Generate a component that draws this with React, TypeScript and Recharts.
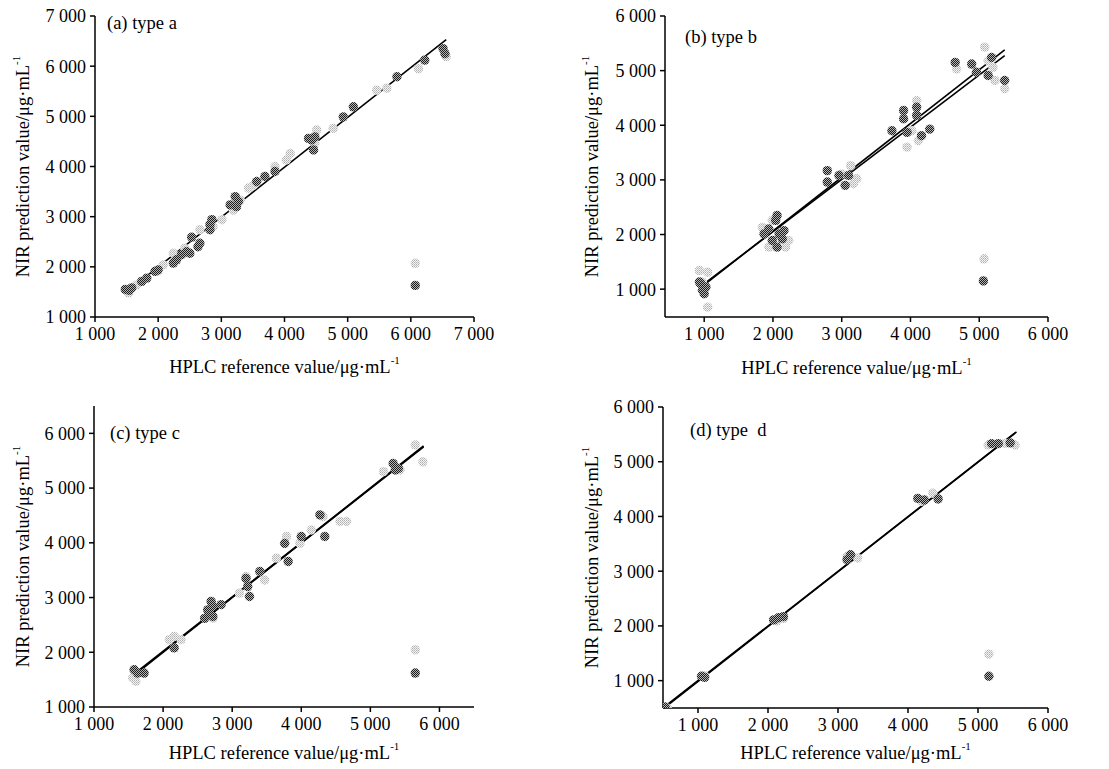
import React from "react";
import {
  ScatterChart,
  Scatter,
  XAxis,
  YAxis,
  ReferenceLine,
  Label,
} from "recharts";

type Pt = [number, number];

const FONT = '"Liberation Serif", "Times New Roman", serif';

// (a) type a
const aCal: Pt[] = [
  [1480, 1550], [1540, 1530], [1580, 1580], [1740, 1710], [1820, 1775],
  [1950, 1910], [2000, 1940], [2240, 2075], [2290, 2140], [2370, 2240],
  [2450, 2300], [2500, 2270], [2530, 2590], [2630, 2400], [2660, 2470],
  [2820, 2740], [2820, 2840], [2850, 2940], [3140, 3235], [3220, 3400],
  [3240, 3200], [3270, 3300], [3560, 3700], [3690, 3800], [3850, 3900],
  [4380, 4560], [4430, 4530], [4460, 4330], [4480, 4590], [4930, 4990],
  [5090, 5190], [5780, 5790], [6220, 6120], [6510, 6350], [6540, 6250],
  [6070, 1630],
];
const aVal: Pt[] = [
  [1530, 1480], [1660, 1640], [1980, 1910], [2080, 2040], [2240, 2270],
  [2420, 2370], [2660, 2740], [2870, 2800], [3010, 2940], [3190, 3130],
  [3300, 3330], [3430, 3570], [3510, 3630], [3850, 4000], [4030, 4130],
  [4090, 4260], [4510, 4730], [4480, 4460], [4770, 4760], [5460, 5520],
  [5620, 5560], [6120, 5950], [6560, 6190], [6070, 2070],
];
const aFit: Pt[][] = [[[1480, 1480], [6560, 6530]]];

// (b) type b
const bCal: Pt[] = [
  [930, 1130], [950, 1100], [975, 980], [1000, 915], [1025, 1040],
  [1870, 2010], [1940, 2100], [2040, 2260], [2060, 2350], [2090, 2010],
  [2135, 1920], [2060, 1770], [1990, 1890], [2160, 2070],
  [2790, 3170], [2790, 2960], [2960, 3080], [3050, 2900], [3100, 3080],
  [3730, 3900], [3900, 4270], [3900, 4120], [3950, 3870], [4090, 4330],
  [4090, 4180], [4160, 3810], [4280, 3930],
  [4650, 5150], [4890, 5120], [4960, 4970], [5130, 4910], [5180, 5240],
  [5370, 4820], [5060, 1150],
];
const bVal: Pt[] = [
  [930, 1340], [1050, 1310], [1050, 670], [975, 1130],
  [1845, 2130], [1990, 2260], [2185, 1770], [1940, 1770], [2230, 1890],
  [3000, 3110], [3130, 3260], [3220, 3020], [3170, 2930],
  [3950, 3600], [4090, 4450], [4115, 3720], [4020, 3900],
  [4670, 5030], [5080, 5430], [5200, 5060], [5130, 5180], [5230, 4820],
  [5370, 4670], [5070, 1555],
];
const bFit: Pt[][] = [
  [[930, 1010], [5370, 5380]],
  [[930, 1030], [5370, 5275]],
];

// (c) type c
const cCal: Pt[] = [
  [1580, 1680], [1630, 1620], [1725, 1620], [2160, 2080],
  [2600, 2620], [2670, 2715], [2720, 2840], [2695, 2930], [2645, 2775],
  [2720, 2655], [2840, 2870], [3200, 3350], [3225, 3200], [3250, 3020],
  [3400, 3475], [3760, 3990], [3810, 3660], [4000, 4115], [4270, 4510],
  [4340, 4115], [5330, 5450], [5405, 5360], [5360, 5330], [5650, 1620],
];
const cVal: Pt[] = [
  [1560, 1530], [1605, 1470], [2090, 2230], [2160, 2290], [2260, 2230],
  [2720, 2625], [3105, 3080], [3200, 3385], [3470, 3320], [3640, 3720],
  [3785, 4115], [3980, 3990], [4145, 4235], [4315, 4480], [4560, 4390],
  [4655, 4390], [5190, 5300], [5430, 5330], [5650, 5790], [5760, 5480],
  [5650, 2045],
];
const cFit: Pt[][] = [
  [[1560, 1560], [5770, 5770]],
  [[1560, 1580], [5770, 5755]],
];

// (d) type d
const dCal: Pt[] = [
  [530, 520], [1050, 1080], [1095, 1060], [2080, 2110], [2150, 2150],
  [2220, 2170], [3130, 3210], [3180, 3300], [4140, 4330], [4235, 4300],
  [4430, 4320], [5195, 5330], [5290, 5330], [5460, 5345], [5155, 1080],
];
const dVal: Pt[] = [
  [560, 500], [1095, 1090], [2125, 2090], [2220, 2135], [3130, 3270],
  [3280, 3240], [4190, 4275], [4355, 4425], [5145, 5305], [5385, 5335],
  [5530, 5305], [5155, 1485],
];
const dFit: Pt[][] = [
  [[500, 500], [5550, 5545]],
  [[515, 500], [5530, 5525]],
];

const ticks1to7 = [1000, 2000, 3000, 4000, 5000, 6000, 7000];
const ticks1to6 = [1000, 2000, 3000, 4000, 5000, 6000];

const fmt = (n: number) =>
  `${Math.floor(n / 1000)} ${String(n % 1000).padStart(3, "0")}`;

const toObj = (pts: Pt[]) => pts.map(([x, y]) => ({ x, y }));

const DarkDot = (p: any) => (
  <circle cx={p.cx} cy={p.cy} r={4.7} fill="url(#dotDark)" />
);
const LightDot = (p: any) => (
  <circle cx={p.cx} cy={p.cy} r={4.7} fill="url(#dotLight)" />
);

const YTitle = (off: number) => (props: any) => {
  const vb = props.viewBox || {};
  const cx = vb.x + off;
  const cy = vb.y + vb.height / 2;
  return (
    <text
      x={cx}
      y={cy}
      transform={`rotate(-90 ${cx} ${cy})`}
      textAnchor="middle"
      dominantBaseline="central"
      fontFamily={FONT}
      fontSize={18.5}
      fill="#000"
    >
      NIR prediction value/μg·mL
      <tspan dy={-7} fontSize={11}>-1</tspan>
    </text>
  );
};

const XTitle = (off: number) => (props: any) => {
  const vb = props.viewBox || {};
  const cx = vb.x + vb.width / 2;
  const cy = vb.y + off;
  return (
    <text
      x={cx}
      y={cy}
      textAnchor="middle"
      dominantBaseline="central"
      fontFamily={FONT}
      fontSize={18.5}
      fill="#000"
    >
      HPLC reference value/μg·mL
      <tspan dy={-7} fontSize={11}>-1</tspan>
    </text>
  );
};

interface PanelProps {
  title: string;
  titleX: number;
  titleY: number;
  left: number;
  top: number;
  width: number;
  height: number;
  marginTop: number;
  marginRight: number;
  yAxisWidth: number;
  xAxisHeight: number;
  xDomain: [number, number];
  yDomain: [number, number];
  xTicks: number[];
  yTicks: number[];
  cal: Pt[];
  val: Pt[];
  fits: Pt[][];
  fitWidth: number;
  yTitleOff: number;
  xTitleOff: number;
}

const Panel: React.FC<PanelProps> = (p) => {
  const axisStyle = { stroke: "#000", strokeWidth: 1.5 };
  const tickStyle = { fill: "#000", fontSize: 18, fontFamily: FONT };
  return (
    <div style={{ position: "absolute", left: p.left, top: p.top }}>
      <ScatterChart
        width={p.width}
        height={p.height}
        margin={{ top: p.marginTop, right: p.marginRight, bottom: 0, left: 0 }}
      >
        <XAxis
          type="number"
          dataKey="x"
          domain={p.xDomain}
          ticks={p.xTicks}
          tickFormatter={fmt}
          height={p.xAxisHeight}
          axisLine={axisStyle}
          tickLine={axisStyle}
          tickSize={5}
          tickMargin={5}
          tick={tickStyle}
          allowDataOverflow
          interval={0}
        >
          <Label content={XTitle(p.xTitleOff)} />
        </XAxis>
        <YAxis
          type="number"
          dataKey="y"
          domain={p.yDomain}
          ticks={p.yTicks}
          tickFormatter={fmt}
          width={p.yAxisWidth}
          axisLine={axisStyle}
          tickLine={axisStyle}
          tickSize={5}
          tickMargin={4}
          tick={tickStyle}
          allowDataOverflow
          interval={0}
        >
          <Label content={YTitle(p.yTitleOff)} />
        </YAxis>
        <Scatter
          data={toObj(p.val)}
          shape={LightDot}
          isAnimationActive={false}
        />
        <Scatter
          data={toObj(p.cal)}
          shape={DarkDot}
          isAnimationActive={false}
        />
        {p.fits.map((f, i) => (
          <ReferenceLine
            key={i}
            segment={[
              { x: f[0][0], y: f[0][1] },
              { x: f[1][0], y: f[1][1] },
            ]}
            stroke="#000"
            strokeWidth={p.fitWidth}
            ifOverflow="visible"
          />
        ))}
      </ScatterChart>
      <div
        style={{
          position: "absolute",
          left: p.titleX,
          top: p.titleY,
          transform: "translateY(-50%)",
          fontFamily: FONT,
          fontSize: 18.5,
          whiteSpace: "pre",
          lineHeight: 1,
          color: "#000",
        }}
      >
        {p.title}
      </div>
    </div>
  );
};

export default function App() {
  return (
    <div
      style={{
        position: "absolute",
        left: 0,
        top: 0,
        width: 1109,
        height: 769,
        background: "#fff",
        overflow: "hidden",
      }}
    >
      <svg width={0} height={0} style={{ position: "absolute" }}>
        <defs>
          <pattern id="dotDark" width={2} height={2} patternUnits="userSpaceOnUse">
            <rect width={2} height={2} fill="#b4b4b4" />
            <rect width={1} height={1} fill="#1c1c1c" />
            <rect x={1} y={1} width={1} height={1} fill="#1c1c1c" />
          </pattern>
          <pattern id="dotLight" width={2} height={2} patternUnits="userSpaceOnUse">
            <rect width={2} height={2} fill="#f2f2f2" />
            <rect width={1} height={1} fill="#b0b0b0" />
            <rect x={1} y={1} width={1} height={1} fill="#c4c4c4" />
          </pattern>
        </defs>
      </svg>
      <Panel
        title="(a) type a"
        titleX={107}
        titleY={23}
        left={0}
        top={0}
        width={545}
        height={385}
        marginTop={16}
        marginRight={71}
        yAxisWidth={95}
        xAxisHeight={68}
        xDomain={[1000, 7000]}
        yDomain={[1000, 7000]}
        xTicks={ticks1to7}
        yTicks={ticks1to7}
        cal={aCal}
        val={aVal}
        fits={aFit}
        fitWidth={1.6}
        yTitleOff={23}
        xTitleOff={50}
      />
      <Panel
        title="(b) type b"
        titleX={130}
        titleY={37}
        left={555}
        top={0}
        width={554}
        height={385}
        marginTop={16}
        marginRight={61}
        yAxisWidth={110}
        xAxisHeight={68}
        xDomain={[430, 6000]}
        yDomain={[490, 6000]}
        xTicks={ticks1to6}
        yTicks={ticks1to6}
        cal={bCal}
        val={bVal}
        fits={bFit}
        fitWidth={1.6}
        yTitleOff={37}
        xTitleOff={51}
      />
      <Panel
        title="(c) type c"
        titleX={110}
        titleY={53}
        left={0}
        top={380}
        width={545}
        height={389}
        marginTop={26}
        marginRight={71}
        yAxisWidth={94}
        xAxisHeight={62}
        xDomain={[1000, 6500]}
        yDomain={[1000, 6500]}
        xTicks={ticks1to6}
        yTicks={ticks1to6}
        cal={cCal}
        val={cVal}
        fits={cFit}
        fitWidth={1.8}
        yTitleOff={23}
        xTitleOff={46}
      />
      <Panel
        title="(d) type  d"
        titleX={135}
        titleY={50}
        left={555}
        top={380}
        width={554}
        height={389}
        marginTop={27}
        marginRight={61}
        yAxisWidth={108}
        xAxisHeight={61}
        xDomain={[500, 6000]}
        yDomain={[500, 6000]}
        xTicks={ticks1to6}
        yTicks={ticks1to6}
        cal={dCal}
        val={dVal}
        fits={dFit}
        fitWidth={1.6}
        yTitleOff={37}
        xTitleOff={45}
      />
    </div>
  );
}
